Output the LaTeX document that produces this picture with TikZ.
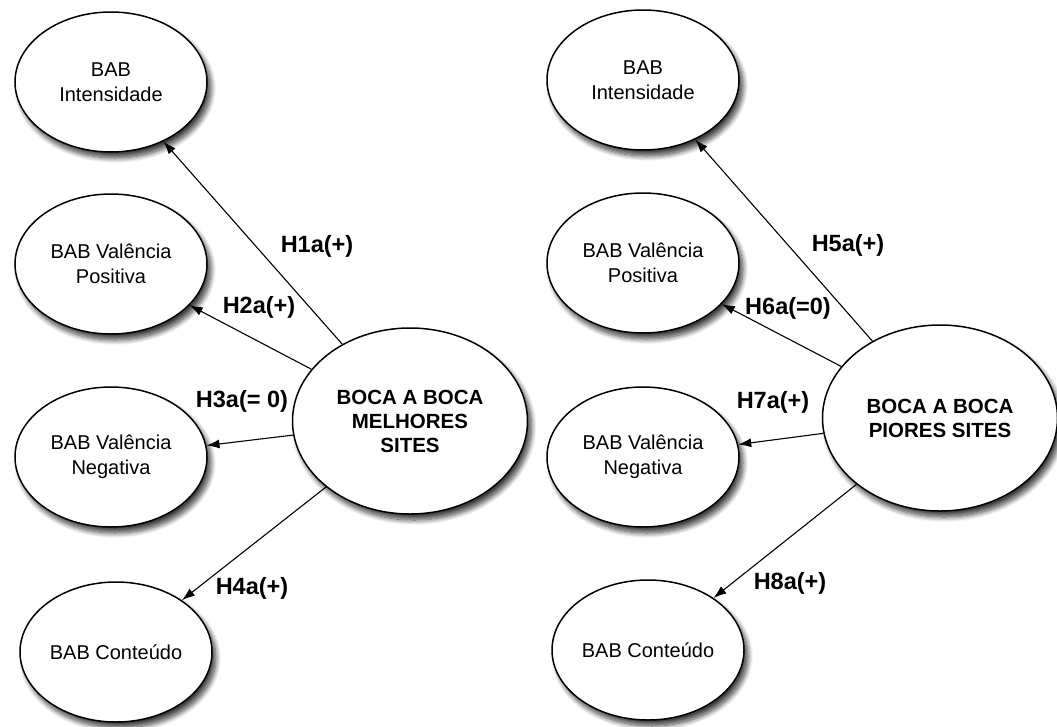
\documentclass[tikz,border=0pt]{standalone}
\usepackage{fontspec}
\setmainfont{Liberation Sans}
\usepackage{tikz}
\usetikzlibrary{shapes.geometric, arrows.meta, shadows.blur}

\begin{document}
\begin{tikzpicture}[
                x=1pt, y=-1pt,
                construto/.style={ellipse, draw, line width=1.5pt, fill=white, minimum width=192pt, minimum height=140pt, inner sep=0pt, align=center, font=\fontsize{20}{25}\selectfont, blur shadow={shadow xshift=4pt, shadow yshift=-6pt, shadow blur radius=5pt, shadow blur steps=10, shadow opacity=75}}, % Small constructs
                central/.style={construto, minimum width=235pt, minimum height=186pt, font=\bfseries\fontsize{20.5}{24}\selectfont}, % Main construct
                hipotese/.style={font=\bfseries\fontsize{23.5}{24}\selectfont, inner sep=0pt}, % Hypothesis labels
                seta/.style={-{Latex[length=13pt,width=9pt]}, line width=1.1pt}
                ]
                \useasboundingbox (0,0) rectangle (1057,726);
                % left panel
                \node[construto] (intL) at (111,82) {BAB\\Intensidade};
                \node[construto] (posL) at (111,264) {BAB Valência\\Positiva};
                \node[construto] (negL) at (111,457) {BAB Valência\\Negativa};
                \node[construto] (conL) at (116,652) {BAB Conteúdo};
                \node[central] (bocaL) at (410,421) {BOCA A BOCA\\MELHORES\\SITES};
                \draw[seta] (bocaL) -- (intL);
                \draw[seta] (bocaL) -- (posL);
                \draw[seta] (bocaL) -- (negL);
                \draw[seta] (bocaL) -- (conL);
                \node[hipotese] (h1) at (317,246) {H1a(+)};
                \node[hipotese] (h2) at (259,307) {H2a(+)};
                \node[hipotese] (h3) at (242,401) {H3a(= 0)};
                \node[hipotese] (h4) at (252,588) {H4a(+)};
                % right panel
                \node[construto] (intR) at (643,80) {BAB\\Intensidade};
                \node[construto] (posR) at (643,263) {BAB Valência\\Positiva};
                \node[construto] (negR) at (643,457) {BAB Valência\\Negativa};
                \node[construto] (conR) at (648,650) {BAB Conteúdo};
                \node[central] (bocaR) at (940,418) {BOCA A BOCA\\PIORES SITES};
                \draw[seta] (bocaR) -- (intR);
                \draw[seta] (bocaR) -- (posR);
                \draw[seta] (bocaR) -- (negR);
                \draw[seta] (bocaR) -- (conR);
                \node[hipotese] (h5) at (848,245) {H5a(+)};
                \node[hipotese] (h6) at (788,308) {H6a(=0)};
                \node[hipotese] (h7) at (773,402) {H7a(+)};
                \node[hipotese] (h8) at (790,583) {H8a(+)};
            \end{tikzpicture}
\end{document}
